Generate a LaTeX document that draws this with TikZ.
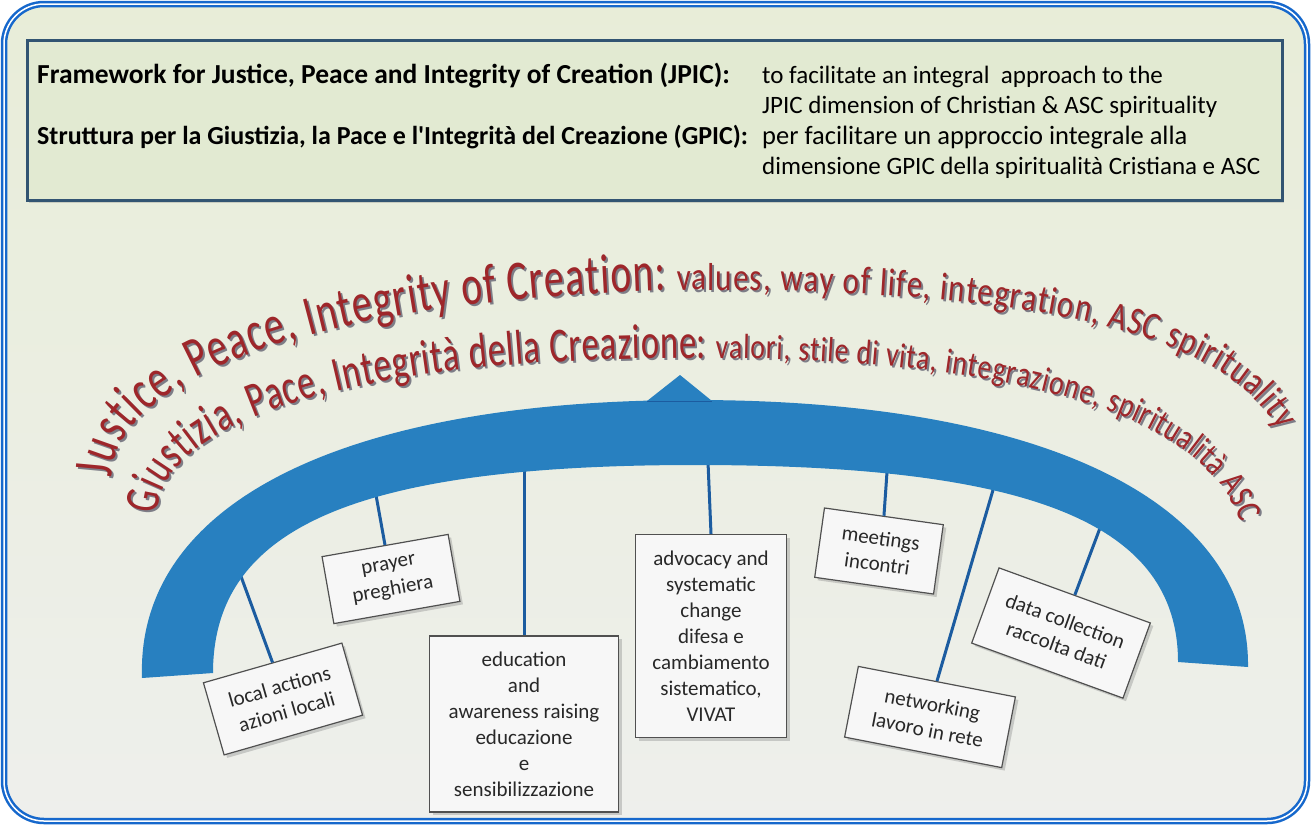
\documentclass[tikz,border=0pt]{standalone}
\usepackage{fontspec}
\setmainfont{Carlito}
\newfontfamily\arcfont[FakeStretch=0.8]{Carlito}
\newfontfamily\arcnarrow[FakeStretch=0.71]{Carlito}
\usetikzlibrary{positioning,decorations.text,shadows}

\definecolor{frameblue}{RGB}{22,104,204}
\definecolor{bgtop}{RGB}{232,237,216}
\definecolor{bgbot}{RGB}{238,239,236}
\definecolor{headfill}{RGB}{226,234,210}
\definecolor{headline}{RGB}{50,84,114}
\definecolor{archblue}{RGB}{40,128,192}
\definecolor{stemblue}{RGB}{28,92,160}
\definecolor{jpicred}{RGB}{158,38,42}
\definecolor{arcshadow}{RGB}{125,125,135}
\definecolor{boxline}{RGB}{80,80,80}
\definecolor{boxtext}{RGB}{40,40,40}

\newcommand\arcbig{\arcnarrow\fontsize{56}{56}\selectfont}
\newcommand\arcsmall{\arcfont\fontsize{39}{39}\selectfont}
\newcommand\arcbigit{\arcnarrow\fontsize{49}{49}\selectfont}
\newcommand\arcsmallit{\arcfont\fontsize{35}{35}\selectfont}

\tikzset{
  headtxt/.style={anchor=base west, inner sep=0pt, font=\fontsize{25}{30}\selectfont},
  act/.style={draw=boxline, line width=1.2pt, fill=white!97!black, text=boxtext,
    align=center, inner sep=2pt, font=\fontsize{21}{26}\selectfont,
    drop shadow={shadow xshift=3pt, shadow yshift=-3pt, opacity=0.35}},
  stem/.style={draw=stemblue, line width=3pt},
}

\begin{document}
\begin{tikzpicture}[x=1pt, y=-1pt]
    \useasboundingbox (0,0) rectangle (1311,825);
    \fill[white] (0,0) rectangle (1311,825);
    \shade[top color=bgtop, bottom color=bgbot, rounded corners=40] (4,4) rectangle (1307,821);
    \draw[frameblue, line width=2.5pt, double=white, double distance=1.5pt, rounded corners=40] (4,4) rectangle (1307,821);

    \path[draw=headline, line width=3pt, fill=headfill,
      drop shadow={shadow xshift=2pt, shadow yshift=-3pt, opacity=0.3}] (27,40) rectangle (1282,200);
    \node[headtxt] (fw) at (37,83) {\fontsize{27.5}{30}\selectfont\bfseries Framework for Justice, Peace and Integrity of Creation (JPIC):};
    \node[headtxt] (fwaim) at (762,83) {to facilitate an integral\ \ approach to the};
    \node[headtxt] (fwaim2) at (762,113) {JPIC dimension of Christian \& ASC spirituality};
    \node[headtxt] (gp) at (37,144) {\fontsize{26}{30}\selectfont\bfseries Struttura per la Giustizia, la Pace e l\textquotesingle Integrità del Creazione (GPIC):};
    \node[headtxt] (gpaim) at (762,144) {\fontsize{26.5}{30}\selectfont per facilitare un approccio integrale alla};
    \node[headtxt] (gpaim2) at (762,174) {dimensione GPIC della spiritualità Cristiana e ASC};

    \node[act, minimum width=144pt, minimum height=75pt, rotate=16] (local) at (283,699) {local actions\\azioni locali};
    \node[act, minimum width=128pt, minimum height=68pt, rotate=10] (prayer) at (391,579) {prayer\\preghiera};
    \node[act, minimum width=189pt, minimum height=176pt] (edu) at (524,724)
      {education\\and\\awareness raising\\educazione\\e\\sensibilizzazione};
    \node[act, minimum width=151pt, minimum height=203pt] (advo) at (711,636)
      {advocacy and\\systematic\\change\\difesa e\\cambiamento\\sistematico,\\VIVAT};
    \node[act, minimum width=120pt, minimum height=70pt, rotate=-8] (meet) at (879,551) {meetings\\incontri};
    \node[act, minimum width=160pt, minimum height=72pt, rotate=-11] (net) at (930,717) {networking\\lavoro in rete};
    \node[act, minimum width=161pt, minimum height=80pt, rotate=-20] (data) at (1061,633) {data collection\\raccolta dati};

    \coordinate (localtop) at (235,560);
    \coordinate (prayertop) at (376,495);
    \coordinate (edutop) at (524,470);
    \coordinate (advotop) at (708,462);
    \coordinate (meettop) at (887,472);
    \coordinate (nettop) at (993,490);
    \coordinate (datatop) at (1100,528);
    \draw[stem] (localtop) -- (local.north);
    \draw[stem] (prayertop) -- (prayer.north);
    \draw[stem] (edutop) -- (edu.north);
    \draw[stem] (advotop) -- (advo.north);
    \draw[stem] (meettop) -- (meet.north);
    \draw[stem] (nettop) -- (net.north);
    \draw[stem] (datatop) -- (data.north);

    \fill[archblue] (213,673) -- (142,678) .. controls (136,500) and (349,400) .. (694,400)
      .. controls (1039,400) and (1250,500) .. (1248,667) -- (1178,662)
      .. controls (1178,524) and (1033,465) .. (695,465)
      .. controls (357,465) and (213,527) .. (213,673) -- cycle;
    \fill[archblue] (647,401) -- (680,375) -- (712,401) -- cycle;
    \draw[stemblue, line width=0.8pt] (647,401) -- (712,401);

    \foreach \tc/\dd in {arcshadow/2, jpicred/0} {
      \path[shift={(\dd,\dd)}, decorate, decoration={text along path, text align=fit to path, text color=\tc,
        text={|\arcbig|Justice, Peace, Integrity of Creation: |\arcsmall|values, way of life, integration, ASC spirituality}}]
        (112,478) .. controls (112,385) and (300,298) .. (690,290)
        .. controls (1000,290) and (1218,322) .. (1278,430);
      \path[shift={(\dd,\dd)}, decorate, decoration={text along path, text align=fit to path, text color=\tc,
        text={|\arcbigit|Giustizia, Pace, Integrità della Creazione: |\arcsmallit|valori, stile di vita, integrazione, spiritualità ASC}}]
        (157,515) .. controls (160,420) and (360,357) .. (700,358)
        .. controls (1000,358) and (1205,410) .. (1240,522);
    }
\end{tikzpicture}
\end{document}
